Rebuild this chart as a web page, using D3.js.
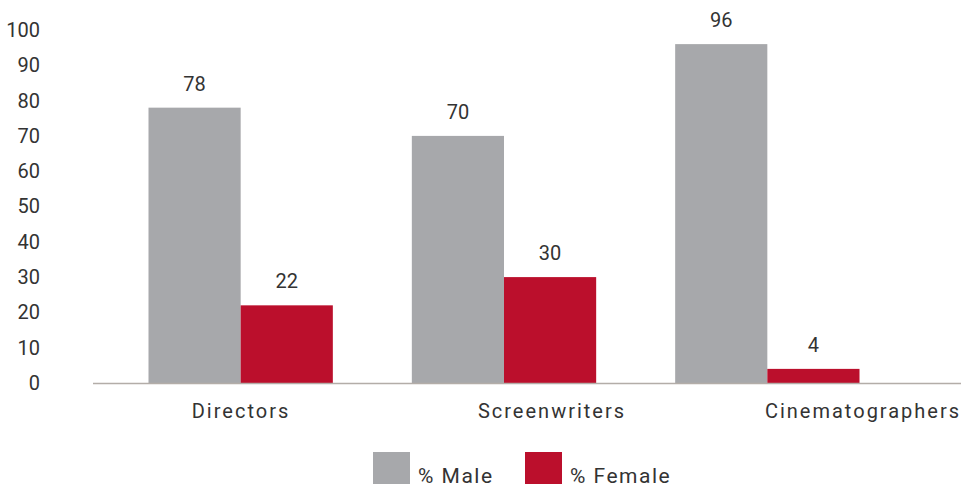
<!DOCTYPE html>
<html>
<head>
<meta charset="utf-8">
<script src="https://cdn.jsdelivr.net/npm/d3@7"></script>
<style>
  body { margin: 0; background: #fff; }
  text { font-family: Roboto, "Noto Sans", sans-serif; fill: #333; }
</style>
</head>
<body>
<script>
var w = 961;
var h = 487;

var categories = ["Directors", "Screenwriters", "Cinematographers"];
var seriesNames = ["% Male", "% Female"];
var maleValues = [78, 70, 96];
var femaleValues = [22, 30, 4];
var yTicks = [0, 10, 20, 30, 40, 50, 60, 70, 80, 90, 100];

var colors = ["#a7a8ab", "#bb0f2c"];

var dataset = categories.map((c, i) => {
    return {
        category: c,
        values: [
            { series: seriesNames[0], value: maleValues[i] },
            { series: seriesNames[1], value: femaleValues[i] }
        ]
    };
});

var svg = d3.select("body")
    .append("svg")
    .attr("width", w)
    .attr("height", h);

var xScale = d3.scaleBand()
    .domain(categories)
    .range([109, 899])
    .paddingInner(0.3)
    .paddingOuter(0.15);

var xInner = d3.scaleBand()
    .domain(seriesNames)
    .range([0, xScale.bandwidth()]);

// category labels sit a bit off the bar groups in the original
var labelScale = d3.scalePoint()
    .domain(categories)
    .range([241, 863]);

var yScale = d3.scaleLinear()
    .domain([0, 100])
    .range([383, 30]);

var color = d3.scaleOrdinal()
    .domain(seriesNames)
    .range(colors);

// y axis labels
var yAxis = d3.axisLeft()
    .scale(yScale)
    .tickValues(yTicks)
    .tickSize(0)
    .tickPadding(0);

var yG = svg.append("g")
    .attr("transform", "translate(40,0)")
    .call(yAxis);
yG.select(".domain").remove();
yG.selectAll("text")
    .style("font-family", "Roboto, sans-serif")
    .style("font-size", "20px")
    .attr("fill", "#333");

// bars
var groups = svg.selectAll(".group")
    .data(dataset)
    .enter()
    .append("g")
    .attr("class", "group")
    .attr("transform", d => `translate(${xScale(d.category)},0)`);

groups.selectAll("rect")
    .data(d => d.values)
    .enter()
    .append("rect")
    .attr("x", d => xInner(d.series))
    .attr("y", d => yScale(d.value))
    .attr("width", xInner.bandwidth())
    .attr("height", d => yScale(0) - yScale(d.value))
    .attr("fill", d => color(d.series));

groups.selectAll(".val")
    .data(d => d.values)
    .enter()
    .append("text")
    .attr("class", "val")
    .attr("x", d => xInner(d.series) + xInner.bandwidth() / 2)
    .attr("y", d => yScale(d.value) - 17)
    .attr("text-anchor", "middle")
    .style("font-size", "20px")
    .text(d => d.value);

// baseline
svg.append("line")
    .attr("x1", 93)
    .attr("x2", w)
    .attr("y1", yScale(0) + 0.5)
    .attr("y2", yScale(0) + 0.5)
    .attr("stroke", "#b3ada8")
    .attr("stroke-width", 1.5);

// category labels
svg.selectAll(".cat")
    .data(categories)
    .enter()
    .append("text")
    .attr("class", "cat")
    .attr("x", d => labelScale(d))
    .attr("y", 418)
    .attr("text-anchor", "middle")
    .style("font-size", "20px")
    .style("letter-spacing", "2px")
    .text(d => d);

// legend
var legendX = [373, 525];
var legend = svg.selectAll(".legend")
    .data(seriesNames)
    .enter()
    .append("g")
    .attr("class", "legend")
    .attr("transform", (d, i) => `translate(${legendX[i]},452)`);

legend.append("rect")
    .attr("width", 37)
    .attr("height", 32)
    .attr("fill", d => color(d));

legend.append("text")
    .attr("x", 45)
    .attr("y", 31)
    .style("font-size", "21px")
    .style("letter-spacing", "1.5px")
    .text(d => d);
</script>
</body>
</html>
